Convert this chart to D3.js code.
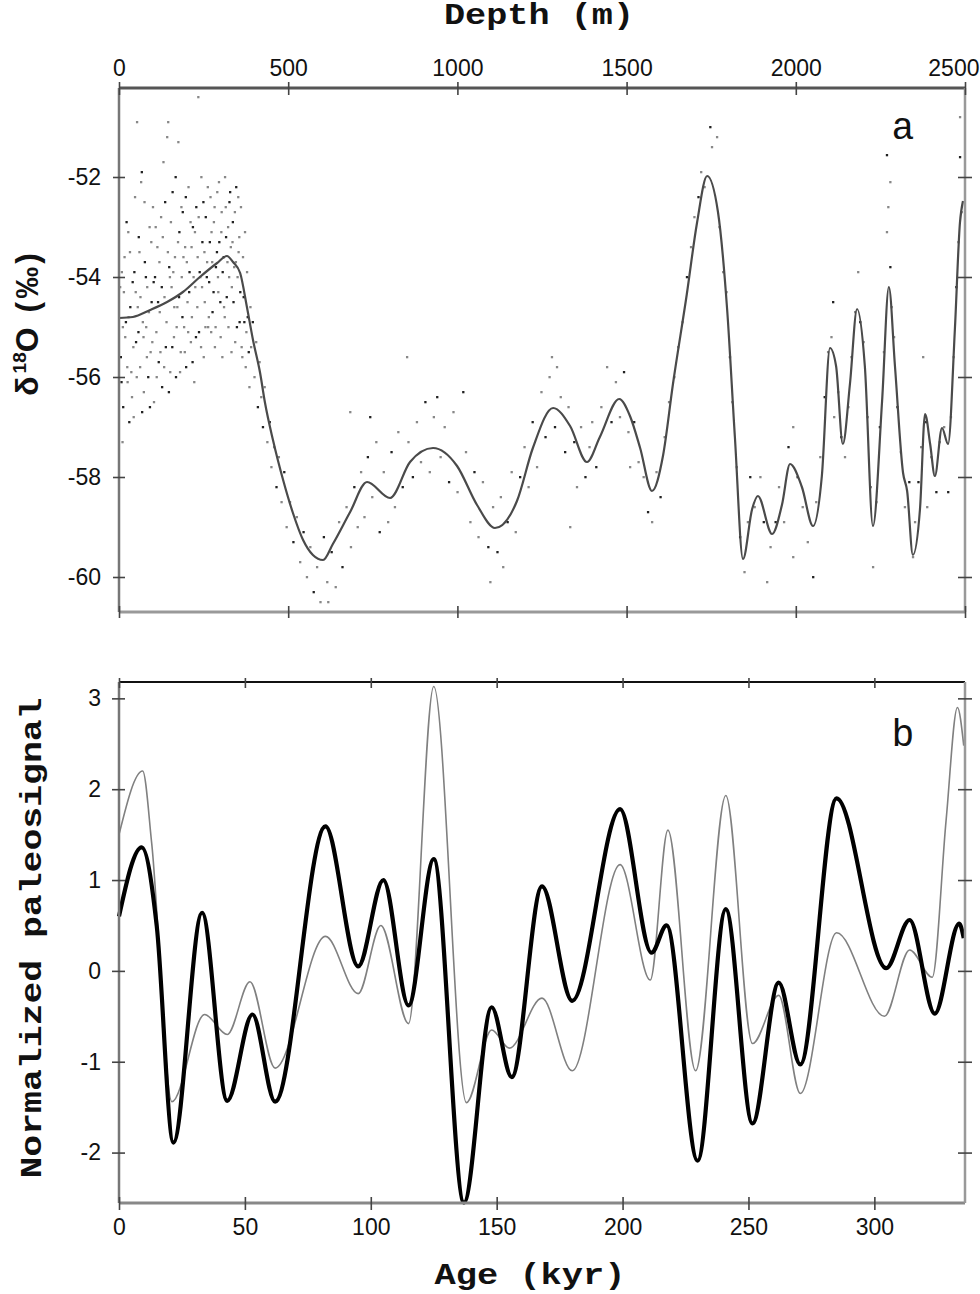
<!DOCTYPE html>
<meta charset="utf-8">
<style>
body {
  margin: 0;
  background: #fff;
}
svg text {
  fill: #111;
}
.tick text {
  font-family: "Liberation Sans", Arial, sans-serif;
  font-size: 23px;
}
.title {
  font-family: "Liberation Mono", "DejaVu Sans Mono", monospace;
  font-weight: bold;
  font-size: 30px;
}
.panel {
  font-family: "Liberation Mono", monospace;
  font-size: 38px;
}
</style>
<body>
<script src="https://cdn.jsdelivr.net/npm/d3@7"></script>
<script>
// panel a: smoothed d18O against depth
var depthTicks = [0, 500, 1000, 1500, 2000, 2500];
var o18Ticks = [-60, -58, -56, -54, -52];
var depthCurve = [0, 41, 92, 142, 189, 239, 290, 319, 337, 358, 378, 396, 417, 431, 455, 485, 514, 544, 573, 603,
  632, 683, 733, 801, 860, 928, 999, 1058, 1111, 1176, 1223, 1283, 1333, 1383, 1421, 1478, 1510, 1540, 1575,
  1608, 1637, 1678, 1708, 1738, 1770, 1797, 1820, 1844, 1871, 1888, 1930, 1959, 1983, 2018, 2051, 2077, 2101,
  2119, 2139, 2160, 2181, 2204, 2228, 2255, 2275, 2293, 2317, 2329, 2346, 2367, 2382, 2397, 2411, 2432, 2450,
  2470, 2485, 2494];
var o18Curve = [-54.82, -54.8, -54.66, -54.5, -54.3, -54.0, -53.72, -53.58, -53.7, -53.92, -54.6, -55.26, -55.92,
  -56.5, -57.26, -58.06, -58.72, -59.26, -59.56, -59.66, -59.34, -58.7, -58.1, -58.42, -57.7, -57.42, -57.78,
  -58.56, -59.02, -58.48, -57.42, -56.62, -56.98, -57.7, -57.2, -56.44, -56.78, -57.42, -58.28, -57.56, -56.14,
  -54.34, -52.92, -51.98, -52.7, -54.64, -57.2, -59.64, -58.64, -58.38, -59.14, -58.56, -57.74, -58.2, -58.98,
  -57.98, -55.42, -55.78, -57.34, -56.14, -54.64, -55.78, -58.98, -56.48, -54.2, -55.78, -57.92, -58.28, -59.56,
  -58.64, -56.74, -57.34, -57.98, -57.02, -57.34, -55.06, -52.92, -52.48];

// raw samples [depth, d18O]
var samples = [
  [5,-55.6],[8,-53.9],[10,-57.3],[12,-56.6],[14,-54.3],[18,-55.2],[22,-52.9],[25,-56.1],[28,-54.8],[30,-56.9],
  [32,-53.5],[36,-55.9],[40,-54.1],[43,-56.8],[47,-52.4],[50,-55.3],[53,-50.9],[55,-54.6],[58,-53.2],[62,-55.8],
  [65,-52.1],[67,-51.9],[70,-54.9],[73,-56.3],[76,-53.7],[80,-55.0],[83,-54.2],[86,-56.0],[90,-53.0],[93,-55.5],
  [96,-54.5],[100,-52.6],[103,-56.5],[106,-54.0],[110,-55.1],[113,-53.4],[117,-55.7],[120,-54.7],[124,-52.8],
  [127,-56.2],[131,-51.7],[134,-54.4],[138,-55.4],[142,-51.2],[145,-50.9],[148,-53.8],[151,-55.9],[155,-54.2],
  [158,-52.3],[162,-55.2],[165,-53.6],[168,-56.0],[172,-54.6],[175,-51.3],[178,-53.1],[182,-55.5],[185,-54.0],
  [188,-52.7],[192,-55.0],[195,-53.4],[198,-55.8],[202,-54.5],[205,-52.2],[208,-53.9],[212,-55.3],[215,-54.8],
  [218,-53.0],[222,-56.1],[225,-54.2],[228,-52.6],[232,-53.6],[234,-50.4],[236,-55.1],[240,-54.0],[243,-52.0],
  [246,-53.3],[250,-55.6],[253,-54.5],[256,-52.8],[260,-53.7],[263,-55.0],[266,-54.1],[270,-52.4],[273,-53.1],
  [276,-54.7],[280,-52.9],[283,-55.4],[286,-53.8],[290,-52.3],[293,-54.3],[296,-53.3],[300,-55.2],[303,-52.7],
  [306,-53.9],[310,-54.6],[313,-52.0],[316,-53.2],[320,-53.7],[323,-55.0],[326,-52.5],[330,-53.4],[333,-54.2],
  [336,-52.9],[340,-53.8],[343,-55.3],[346,-52.2],[350,-54.0],[353,-53.5],[356,-54.9],[360,-52.6],[364,-55.6],
  [368,-54.4],[372,-53.1],[376,-55.1],[380,-54.8],[385,-56.2],
  [3,-54.2],[7,-56.1],[11,-55.0],[16,-53.6],[20,-54.9],[24,-55.8],[27,-53.1],[33,-54.6],[38,-56.4],[42,-55.4],
  [45,-53.9],[49,-54.3],[52,-56.0],[57,-55.1],[60,-53.5],[63,-54.4],[68,-56.7],[72,-55.2],[75,-52.5],[79,-54.0],
  [82,-55.6],[88,-54.7],[91,-56.6],[95,-53.3],[98,-55.3],[102,-54.1],[108,-53.0],[111,-56.0],[115,-54.5],
  [119,-53.7],[122,-55.5],[126,-54.2],[129,-53.2],[133,-55.8],[136,-52.5],[140,-54.9],[144,-53.5],[147,-56.3],
  [150,-54.0],[153,-52.9],[157,-55.4],[160,-53.9],[163,-54.6],[167,-52.0],[170,-55.0],[174,-53.3],[177,-54.4],
  [180,-55.9],[184,-52.6],[187,-54.8],[190,-53.6],[194,-55.5],[197,-52.4],[200,-53.7],[204,-55.1],[207,-54.3],
  [211,-52.9],[214,-53.4],[217,-55.7],[220,-54.0],[224,-53.1],[227,-55.2],[231,-54.6],[235,-52.8],[238,-53.9],
  [242,-55.4],[245,-54.2],[249,-52.5],[252,-53.5],[255,-55.0],[259,-54.0],[262,-52.2],[265,-54.8],[268,-53.3],
  [272,-55.1],[275,-53.7],[279,-54.3],[282,-52.6],[285,-55.0],[289,-53.5],[292,-54.0],[295,-52.1],[299,-54.5],
  [302,-53.1],[305,-55.6],[309,-53.6],[312,-54.8],[315,-52.6],[318,-54.4],[322,-53.0],[325,-54.0],[328,-52.3],
  [332,-55.5],[335,-53.3],[338,-54.5],[342,-52.7],[345,-53.7],[348,-55.0],[352,-52.4],[355,-53.2],[358,-54.3],
  [362,-55.4],[366,-53.6],[370,-54.9],[374,-55.8],[378,-53.9],[383,-55.5],[388,-54.6],
  [390,-55.4],[395,-54.9],[400,-56.0],[405,-55.3],[410,-56.6],[415,-55.7],[420,-56.4],[425,-57.0],[430,-56.2],
  [438,-57.3],[445,-56.9],[450,-57.8],[458,-57.4],[465,-58.2],[472,-57.6],[480,-58.5],[488,-57.9],[495,-59.0],
  [505,-58.5],[515,-59.3],[525,-58.8],[535,-59.7],[545,-59.1],[555,-60.0],[565,-59.4],[575,-60.3],[585,-59.8],
  [595,-60.5],[605,-59.2],[615,-60.1],[618,-60.5],[628,-59.5],[640,-60.2],[650,-58.9],[660,-59.8],[672,-58.6],
  [685,-59.4],[695,-58.2],[705,-59.0],[683,-56.7],[742,-56.8],
  [715,-57.9],[725,-58.8],[735,-57.6],[748,-58.4],[760,-57.3],[770,-59.1],[782,-57.9],[795,-58.9],[805,-57.5],
  [815,-58.6],[825,-57.1],[838,-58.2],[851,-55.6],[855,-57.3],[868,-58.0],[880,-56.9],[892,-57.7],[905,-56.5],
  [918,-57.9],[930,-56.8],[940,-56.4],[950,-57.6],[962,-57.0],[975,-58.1],[988,-56.7],[1000,-58.3],[1017,-56.3],
  [1025,-57.5],[1038,-58.9],[1050,-57.9],[1062,-59.2],[1075,-58.1],[1091,-59.4],[1097,-60.1],[1105,-58.6],
  [1118,-59.5],[1128,-58.4],[1135,-59.8],[1148,-58.9],[1160,-57.9],[1172,-59.1],[1185,-58.0],[1198,-57.4],
  [1210,-58.2],[1222,-56.9],[1235,-57.8],[1248,-56.3],[1260,-57.2],[1272,-56.0],[1279,-55.6],[1288,-57.0],
  [1294,-55.8],[1305,-56.4],[1318,-57.5],[1328,-56.6],[1333,-59.0],[1345,-57.3],[1353,-58.2],[1365,-57.0],
  [1378,-58.0],[1390,-57.4],[1398,-56.9],[1410,-57.8],[1425,-56.6],[1442,-55.8],[1455,-56.9],[1468,-56.1],
  [1480,-56.8],[1492,-55.9],[1505,-57.1],[1510,-57.8],[1522,-56.9],[1535,-57.7],[1550,-58.0],[1563,-58.7],
  [1575,-58.9],[1588,-57.9],[1600,-58.4],[1612,-57.2],[1625,-56.5],
  [1640,-56.0],[1652,-55.4],[1665,-54.9],[1678,-54.0],[1690,-53.4],[1700,-52.8],[1712,-52.4],[1720,-51.9],
  [1730,-52.2],[1747,-51.0],[1752,-51.4],[1767,-51.2],[1775,-53.0],[1785,-53.9],[1795,-54.3],[1805,-55.6],
  [1812,-56.5],[1825,-57.8],[1835,-59.2],[1848,-59.9],[1858,-58.9],[1865,-58.0],[1878,-58.6],[1895,-58.0],
  [1905,-58.9],[1915,-60.1],[1925,-59.4],[1940,-58.9],[1950,-58.2],[1965,-58.9],[1978,-57.4],[1992,-57.0],
  [1992,-59.6],[2005,-58.0],[2020,-58.6],[2035,-59.3],[2051,-60.0],[2060,-58.5],[2072,-57.6],[2085,-56.4],
  [2095,-55.5],[2105,-55.2],[2110,-54.5],[2113,-56.8],[2125,-56.3],[2134,-57.2],[2145,-57.6],[2155,-56.6],
  [2165,-55.6],[2175,-54.7],[2184,-53.9],[2190,-54.9],[2200,-55.3],[2212,-56.8],[2220,-58.2],[2228,-59.8],
  [2238,-58.5],[2248,-57.0],[2260,-55.5],[2269,-53.1],[2269,-51.56],[2273,-52.6],[2279,-52.1],[2279,-53.8],
  [2283,-54.6],[2290,-55.2],[2300,-56.6],[2310,-57.5],[2322,-58.6],[2335,-58.1],[2346,-59.6],[2352,-58.9],
  [2362,-58.1],[2370,-57.4],[2376,-55.6],[2385,-56.9],[2388,-58.6],[2400,-57.6],[2415,-58.3],[2425,-57.3],
  [2438,-57.0],[2450,-58.3],[2458,-56.8],[2466,-55.6],[2474,-54.2],[2480,-53.3],[2485,-50.8],[2485,-51.6],
  [2490,-52.7]
];

// panel b: normalized paleosignals against age
var ageTicks = [0, 50, 100, 150, 200, 250, 300];
var signalTicks = [-2, -1, 0, 1, 2, 3];
var ageThick = [0, 9, 15, 21.6, 33, 43, 53, 62, 82, 95, 105, 115, 125, 137, 148, 156, 168, 180, 199, 211.5,
  217.5, 229.8, 241, 251.6, 262, 270.6, 285, 304.7, 314, 324, 333.7, 335.5];
var valThick = [0.6, 1.36, 0.49, -1.89, 0.64, -1.43, -0.48, -1.44, 1.59, 0.05, 1.0, -0.38, 1.23, -2.55, -0.4,
  -1.17, 0.93, -0.33, 1.78, 0.2, 0.5, -2.09, 0.68, -1.68, -0.13, -1.03, 1.9, 0.03, 0.56, -0.47, 0.52, 0.36];
var ageThin = [0, 9.4, 13, 21, 34, 43, 52, 62, 82, 95, 104, 115, 125, 138, 148, 155, 168, 180, 199, 211, 218,
  229, 241, 251.6, 262, 270.6, 285, 304, 314, 323, 328.5, 333, 335.5];
var valThin = [1.5, 2.2, 1.4, -1.44, -0.48, -0.7, -0.12, -1.07, 0.38, -0.25, 0.5, -0.58, 3.13, -1.45, -0.65,
  -0.85, -0.3, -1.1, 1.17, -0.1, 1.55, -1.1, 1.93, -0.8, -0.27, -1.35, 0.42, -0.5, 0.23, -0.07, 1.66, 2.9, 2.48];

var svg = d3.select("body").append("svg").attr("width", 980).attr("height", 1294);
svg.append("rect").attr("width", 980).attr("height", 1294).attr("fill", "#fff");

var L = 119, R = 965;
var xDepth = d3.scaleLinear().domain([0, 2500]).range([L, R]);
var yA = d3.scaleLinear().domain([-60.7, -50.22]).range([612, 88]);
var xAge = d3.scaleLinear().domain([0, 336]).range([L, R]);
var yB = d3.scaleLinear().domain([-2.555, 3.18]).range([1203, 682]);

function plain(d) { return String(d); }
function styleTicks(g) {
  g.select(".domain").remove();
  g.selectAll(".tick line").attr("stroke", "#444").attr("stroke-width", 1.6);
}

// ---- panel a
svg.append("g").selectAll("rect")
    .data(samples)
    .enter().append("rect")
    .attr("x", function(d) { return xDepth(d[0]) - 1; })
    .attr("y", function(d) { return yA(d[1]) - 1; })
    .attr("width", 2.3).attr("height", 2.3)
    .attr("fill", function(d, i) { return i % 3 == 0 ? "#222" : "#888"; });

var lineA = d3.line()
    .x(function(d, i) { return xDepth(depthCurve[i]); })
    .y(function(d) { return yA(d); })
    .curve(d3.curveMonotoneX);
svg.append("path").datum(o18Curve)
    .attr("d", lineA).attr("fill", "none")
    .attr("stroke", "#4a4a4a").attr("stroke-width", 2.2);

// frame a
svg.append("line").attr("x1", L).attr("x2", R).attr("y1", 88).attr("y2", 88)
    .attr("stroke", "#555").attr("stroke-width", 3);
svg.append("line").attr("x1", L).attr("x2", R).attr("y1", 612).attr("y2", 612)
    .attr("stroke", "#999").attr("stroke-width", 3);
svg.append("line").attr("x1", L).attr("x2", L).attr("y1", 88).attr("y2", 612)
    .attr("stroke", "#777").attr("stroke-width", 2.5);
svg.append("line").attr("x1", R).attr("x2", R).attr("y1", 88).attr("y2", 612)
    .attr("stroke", "#999").attr("stroke-width", 2.5);

var topAxis = svg.append("g").attr("transform", "translate(0,95)")
    .call(d3.axisTop(xDepth).tickValues(depthTicks).tickSize(13).tickPadding(6).tickFormat(plain))
    .call(styleTicks);
// last label sits flush with the right edge
topAxis.selectAll(".tick text").filter(function(d) { return d == 2500; })
    .attr("text-anchor", "end").attr("x", 14);
svg.append("g").attr("transform", "translate(0,606)")
    .call(d3.axisBottom(xDepth).tickValues(depthTicks).tickSize(12).tickFormat(""))
    .call(styleTicks);
svg.append("g").attr("transform", "translate(125,0)")
    .call(d3.axisLeft(yA).tickValues(o18Ticks).tickSize(12).tickPadding(12).tickFormat(plain))
    .call(styleTicks);
svg.append("g").attr("transform", "translate(958,0)")
    .call(d3.axisRight(yA).tickValues(o18Ticks).tickSize(14).tickFormat(""))
    .call(styleTicks);

// ---- panel b
var lineThin = d3.line()
    .x(function(d, i) { return xAge(ageThin[i]); })
    .y(function(d) { return yB(d); })
    .curve(d3.curveMonotoneX);
var lineThick = d3.line()
    .x(function(d, i) { return xAge(ageThick[i]); })
    .y(function(d) { return yB(d); })
    .curve(d3.curveMonotoneX);
svg.append("path").datum(valThin)
    .attr("d", lineThin).attr("fill", "none")
    .attr("stroke", "#808080").attr("stroke-width", 1.6);
svg.append("path").datum(valThick)
    .attr("d", lineThick).attr("fill", "none")
    .attr("stroke", "#000").attr("stroke-width", 4.2);

// frame b
svg.append("line").attr("x1", L).attr("x2", R).attr("y1", 682).attr("y2", 682)
    .attr("stroke", "#111").attr("stroke-width", 2.2);
svg.append("line").attr("x1", L).attr("x2", R).attr("y1", 1203).attr("y2", 1203)
    .attr("stroke", "#888").attr("stroke-width", 3);
svg.append("line").attr("x1", L).attr("x2", L).attr("y1", 682).attr("y2", 1203)
    .attr("stroke", "#777").attr("stroke-width", 2.5);
svg.append("line").attr("x1", R).attr("x2", R).attr("y1", 682).attr("y2", 1203)
    .attr("stroke", "#999").attr("stroke-width", 2.5);

svg.append("g").attr("transform", "translate(0,678)")
    .call(d3.axisBottom(xAge).tickValues(ageTicks).tickSize(10).tickFormat(""))
    .call(styleTicks);
svg.append("g").attr("transform", "translate(0,1197)")
    .call(d3.axisBottom(xAge).tickValues(ageTicks).tickSize(13).tickPadding(9).tickFormat(plain))
    .call(styleTicks);
svg.append("g").attr("transform", "translate(125,0)")
    .call(d3.axisLeft(yB).tickValues(signalTicks).tickSize(13).tickPadding(11).tickFormat(plain))
    .call(styleTicks);
svg.append("g").attr("transform", "translate(958,0)")
    .call(d3.axisRight(yB).tickValues(signalTicks).tickSize(14).tickFormat(""))
    .call(styleTicks);

// titles
svg.append("text").attr("class", "title")
    .attr("x", 539).attr("y", 24).attr("text-anchor", "middle")
    .attr("textLength", 190).attr("lengthAdjust", "spacingAndGlyphs")
    .text("Depth (m)");
svg.append("text").attr("class", "title")
    .attr("x", 530).attr("y", 1284).attr("text-anchor", "middle")
    .attr("textLength", 191).attr("lengthAdjust", "spacingAndGlyphs")
    .text("Age (kyr)");
svg.append("text").attr("class", "title")
    .attr("transform", "translate(41,938) rotate(-90)").attr("text-anchor", "middle")
    .attr("textLength", 481).attr("lengthAdjust", "spacingAndGlyphs")
    .text("Normalized paleosignal");

var yLab = svg.append("text")
    .attr("transform", "translate(38,323) rotate(-90)").attr("text-anchor", "middle")
    .style("font-family", "'Liberation Sans', Arial, sans-serif")
    .style("font-weight", "bold").style("font-size", "32px")
    .style("letter-spacing", "3px");
yLab.append("tspan").text("\u03b4");
yLab.append("tspan").attr("dy", -12).style("font-size", "19px").style("letter-spacing", "0px").text("18");
yLab.append("tspan").attr("dy", 12).text("O (\u2030)");

svg.append("text").attr("class", "panel")
    .attr("x", 903).attr("y", 139).attr("text-anchor", "middle").text("a");
svg.append("text").attr("class", "panel")
    .attr("x", 903).attr("y", 746).attr("text-anchor", "middle").text("b");
</script>
</body>
